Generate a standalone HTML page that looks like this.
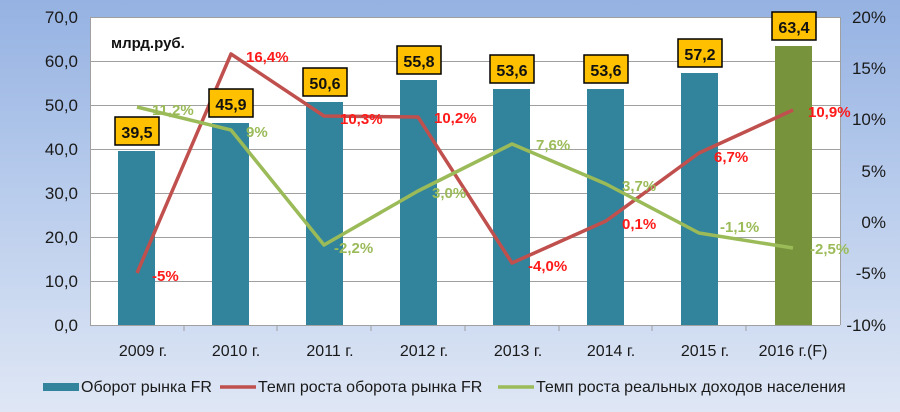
<!DOCTYPE html>
<html style="margin:0;padding:0;width:900px;height:412px;overflow:hidden;background:#dfe7f5;"><head><meta charset="utf-8"><style>
body{margin:0;padding:0;width:900px;height:412px;overflow:hidden;background:linear-gradient(180deg,#95b2e2 0%,#b7cbec 45%,#dfe7f5 100%);font-family:"Liberation Sans","DejaVu Sans",sans-serif;}
svg{display:block;}
</style></head><body>
<svg width="900" height="412" xmlns="http://www.w3.org/2000/svg" font-family="Liberation Sans, DejaVu Sans, sans-serif">
<rect x="90" y="17" width="750" height="308" fill="#fff"/>
<g stroke="#a0a0a0" stroke-width="1">
<line x1="90" y1="17.5" x2="840" y2="17.5"/><line x1="90" y1="61.5" x2="840" y2="61.5"/><line x1="90" y1="105.5" x2="840" y2="105.5"/><line x1="90" y1="149.5" x2="840" y2="149.5"/><line x1="90" y1="193.5" x2="840" y2="193.5"/><line x1="90" y1="237.5" x2="840" y2="237.5"/><line x1="90" y1="281.5" x2="840" y2="281.5"/>
<line x1="90" y1="325.5" x2="840" y2="325.5"/>
<line x1="90.5" y1="17" x2="90.5" y2="325"/><line x1="840.5" y1="17" x2="840.5" y2="325"/>
<line x1="184" y1="325" x2="184" y2="331"/><line x1="277" y1="325" x2="277" y2="331"/><line x1="371" y1="325" x2="371" y2="331"/><line x1="465" y1="325" x2="465" y2="331"/><line x1="559" y1="325" x2="559" y2="331"/><line x1="652" y1="325" x2="652" y2="331"/><line x1="746" y1="325" x2="746" y2="331"/>
</g>
<g font-size="17" fill="#1a1a1a" text-anchor="end">
<text x="78" y="23">70,0</text><text x="78" y="67">60,0</text><text x="78" y="111">50,0</text><text x="78" y="155">40,0</text><text x="78" y="199">30,0</text><text x="78" y="243">20,0</text><text x="78" y="287">10,0</text><text x="78" y="331">0,0</text>
</g>
<g font-size="17" fill="#1a1a1a" text-anchor="end">
<text x="886" y="23">20%</text><text x="886" y="74">15%</text><text x="886" y="125">10%</text><text x="886" y="177">5%</text><text x="886" y="228">0%</text><text x="886" y="279">-5%</text><text x="886" y="331">-10%</text>
</g>
<g font-size="16" fill="#1a1a1a" text-anchor="middle">
<text x="143" y="356">2009 г.</text><text x="236" y="356">2010 г.</text><text x="330" y="356">2011 г.</text><text x="424" y="356">2012 г.</text><text x="518" y="356">2013 г.</text><text x="611" y="356">2014 г.</text><text x="705" y="356">2015 г.</text><text x="793" y="356">2016 г.(F)</text>
</g>
<text x="111" y="48" font-size="15" font-weight="bold" fill="#111">млрд.руб.</text>
<g fill="#31849b">
<rect x="118" y="151" width="37" height="174"/><rect x="212" y="123" width="37" height="202"/><rect x="306" y="102" width="37" height="223"/><rect x="400" y="80" width="37" height="245"/><rect x="493" y="89" width="37" height="236"/><rect x="587" y="89" width="37" height="236"/><rect x="681" y="73" width="37" height="252"/>
</g>
<rect x="775" y="46" width="37" height="279" fill="#77933c"/>
<polyline fill="none" stroke="#c0504d" stroke-width="3.5" stroke-linejoin="round" points="137,273 231,54 324,116 418,117 512,263 606,221 699,153 793,110"/>
<polyline fill="none" stroke="#9bbb59" stroke-width="3.5" stroke-linejoin="round" points="137,107 231,130 324,245 418,191 512,144 606,184 699,233 793,248"/>
<g stroke="#000" stroke-width="1.5" fill="#ffc000">
<rect x="115" y="117" width="44" height="28"/><rect x="209" y="89" width="44" height="28"/><rect x="303" y="68" width="44" height="28"/><rect x="397" y="46" width="44" height="28"/><rect x="490" y="55" width="44" height="28"/><rect x="584" y="55" width="44" height="28"/><rect x="678" y="39" width="44" height="28"/><rect x="772" y="12" width="44" height="28"/>
</g>
<g font-size="16" font-weight="bold" fill="#111" text-anchor="middle">
<text x="137" y="138">39,5</text><text x="231" y="110">45,9</text><text x="325" y="89">50,6</text><text x="419" y="67">55,8</text><text x="512" y="76">53,6</text><text x="606" y="76">53,6</text><text x="700" y="60">57,2</text><text x="794" y="33">63,4</text>
</g>
<g font-size="15" font-weight="bold" fill="#ff1a1a">
<text x="152" y="281">-5%</text><text x="246" y="62">16,4%</text><text x="340" y="124">10,3%</text><text x="434" y="123">10,2%</text><text x="528" y="271">-4,0%</text><text x="622" y="229">0,1%</text><text x="714" y="162">6,7%</text><text x="808" y="117">10,9%</text>
</g>
<g font-size="15" font-weight="bold" fill="#9bbb59">
<text x="152" y="115">11,2%</text><text x="246" y="137">9%</text><text x="334" y="253">-2,2%</text><text x="432" y="198">3,0%</text><text x="536" y="150">7,6%</text><text x="622" y="191">3,7%</text><text x="720" y="232">-1,1%</text><text x="810" y="254">-2,5%</text>
</g>
<rect x="43" y="383" width="36" height="8" fill="#31849b"/>
<text x="81" y="392" font-size="16" fill="#1a1a1a">Оборот рынка FR</text>
<line x1="220" y1="387" x2="256" y2="387" stroke="#c0504d" stroke-width="3.5"/>
<text x="258" y="392" font-size="16" fill="#1a1a1a">Темп роста оборота рынка FR</text>
<line x1="498" y1="387" x2="534" y2="387" stroke="#9bbb59" stroke-width="3.5"/>
<text x="536" y="392" font-size="16" fill="#1a1a1a">Темп роста реальных доходов населения</text>
</svg>
</body></html>
